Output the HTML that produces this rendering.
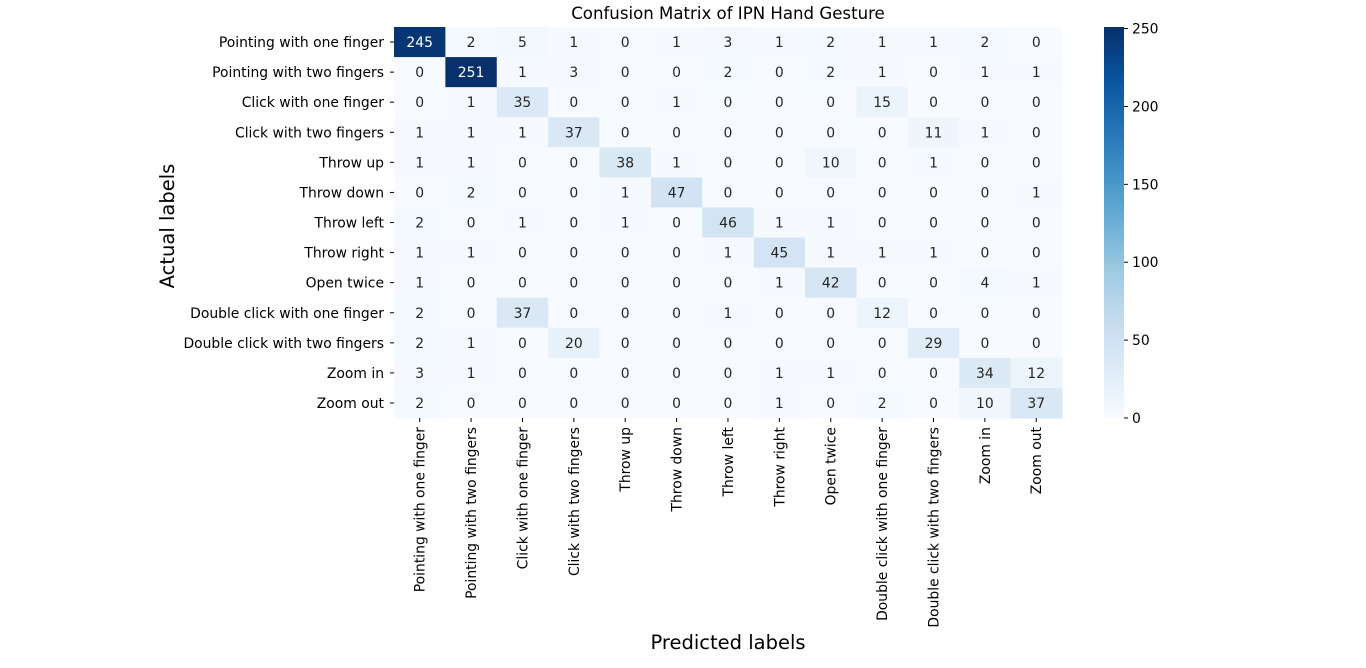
<!DOCTYPE html>
<html><head><meta charset="utf-8"><style>
body{margin:0;background:#fff;}
svg text{font-family:"DejaVu Sans","Liberation Sans",sans-serif;}
</style></head><body>
<svg id="chart" width="1366" height="663" xmlns="http://www.w3.org/2000/svg">
<defs><linearGradient id="cb" x1="0" y1="1" x2="0" y2="0"></linearGradient></defs>
<text x="728" y="19" font-size="16.6" text-anchor="middle">Confusion Matrix of IPN Hand Gesture</text>
<text x="174" y="226" font-size="19.5" text-anchor="middle" transform="rotate(-90 174 226)">Actual labels</text>
<text x="728" y="649" font-size="19.5" text-anchor="middle">Predicted labels</text>
<g id="cells"></g><g id="ylabels"></g><g id="xlabels"></g><g id="cbar"></g>
</svg>
<script>
const labels=["Pointing with one finger","Pointing with two fingers","Click with one finger","Click with two fingers","Throw up","Throw down","Throw left","Throw right","Open twice","Double click with one finger","Double click with two fingers","Zoom in","Zoom out"];
const matrix=[
[245,2,5,1,0,1,3,1,2,1,1,2,0],
[0,251,1,3,0,0,2,0,2,1,0,1,1],
[0,1,35,0,0,1,0,0,0,15,0,0,0],
[1,1,1,37,0,0,0,0,0,0,11,1,0],
[1,1,0,0,38,1,0,0,10,0,1,0,0],
[0,2,0,0,1,47,0,0,0,0,0,0,1],
[2,0,1,0,1,0,46,1,1,0,0,0,0],
[1,1,0,0,0,0,1,45,1,1,1,0,0],
[1,0,0,0,0,0,0,1,42,0,0,4,1],
[2,0,37,0,0,0,1,0,0,12,0,0,0],
[2,1,0,20,0,0,0,0,0,0,29,0,0],
[3,1,0,0,0,0,0,1,1,0,0,34,12],
[2,0,0,0,0,0,0,1,0,2,0,10,37]];
const cbTicks=[0,50,100,150,200,250];
const vmax=251;
const NS="http://www.w3.org/2000/svg";
const L=394,T=27,CW=51.38,CH=30.08,FS=13.9;
const stops=["#f7fbff","#deebf7","#c6dbef","#9ecae1","#6baed6","#4292c6","#2171b5","#08519c","#08306b"];
function hex(h){return [1,3,5].map(i=>parseInt(h.substr(i,2),16));}
function cmap(t){t=Math.max(0,Math.min(1,t))*8;const i=Math.min(7,Math.floor(t)),f=t-i;const a=hex(stops[i]),b=hex(stops[i+1]);return "rgb("+a.map((v,k)=>Math.round(v+(b[k]-v)*f)).join(",")+")";}
function mk(tag,attrs,p){const e=document.createElementNS(NS,tag);for(const k in attrs)e.setAttribute(k,attrs[k]);p.appendChild(e);return e;}
const xs=j=>L+j*CW, ys=i=>T+i*CH;
const cells=document.getElementById('cells');
matrix.forEach((row,i)=>row.forEach((v,j)=>{
 const r=mk('rect',{x:xs(j),y:ys(i),width:CW+0.5,height:CH+0.5,fill:cmap(v/vmax)},cells);
 
 
 const t=mk('text',{x:xs(j)+CW/2,y:ys(i)+CH/2+5,'font-size':FS,'text-anchor':'middle',fill:v/vmax>0.6?'#fff':'#262626'},cells);
 
 
 t.textContent=v;
}));
const yl=document.getElementById('ylabels'),xl=document.getElementById('xlabels');
labels.forEach((s,i)=>{
 const y=ys(i)+CH/2;
 mk('line',{x1:L-4,x2:L,y1:y,y2:y,stroke:'#000'},yl);
 const t=mk('text',{x:L-10,y:y+5,'font-size':FS,'text-anchor':'end'},yl);
 
 
 t.textContent=s;
 const x=xs(i)+CW/2,yb=T+13*CH;
 mk('line',{x1:x,x2:x,y1:yb,y2:yb+4,stroke:'#000'},xl);
 const u=mk('text',{x:x+5,y:yb+9,'font-size':FS,'text-anchor':'end',transform:'rotate(-90 '+(x+5)+' '+(yb+9)+')'},xl);
 
 
 u.textContent=s;
});
const g=document.getElementById('cb');
stops.forEach((c,k)=>mk('stop',{offset:k/8,'stop-color':c},g));
const cb=document.getElementById('cbar');
const cbT=27,cbB=418,cbX=1104,cbW=20;
const cy=v=>cbB-(v/vmax)*(cbB-cbT);
const cr=mk('rect',{x:cbX,y:cbT,width:cbW,height:cbB-cbT,fill:'url(#cb)'},cb);


cbTicks.forEach(v=>{
 mk('line',{x1:cbX+cbW,x2:cbX+cbW+4,y1:cy(v),y2:cy(v),stroke:'#000'},cb);
 const t=mk('text',{x:cbX+cbW+8,y:cy(v)+5,'font-size':FS},cb);
 
 
 t.textContent=v;
});
</script>
</body></html>
